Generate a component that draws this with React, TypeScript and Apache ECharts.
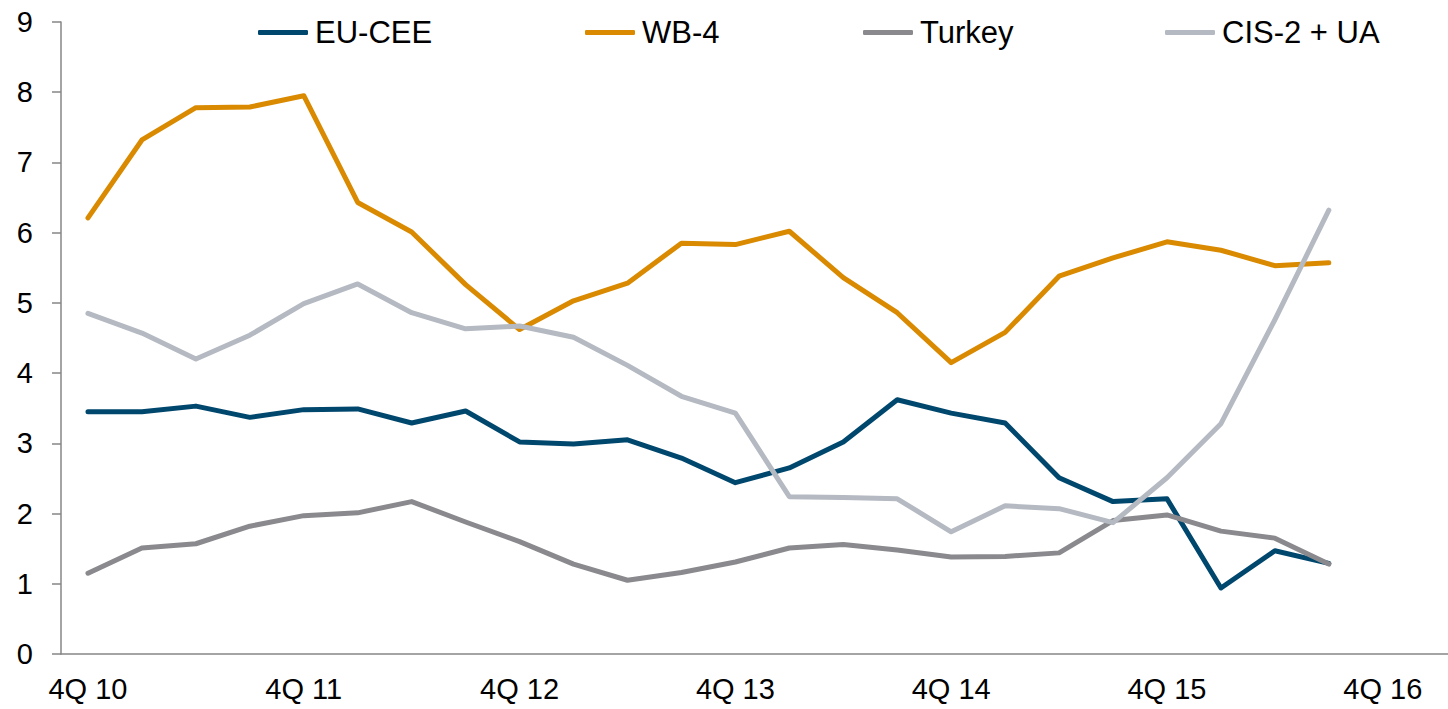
import React, { useEffect, useRef } from "react";
import * as echarts from "echarts";

const categories = [
  "4Q 10", "1Q 11", "2Q 11", "3Q 11",
  "4Q 11", "1Q 12", "2Q 12", "3Q 12",
  "4Q 12", "1Q 13", "2Q 13", "3Q 13",
  "4Q 13", "1Q 14", "2Q 14", "3Q 14",
  "4Q 14", "1Q 15", "2Q 15", "3Q 15",
  "4Q 15", "1Q 16", "2Q 16", "3Q 16",
  "4Q 16", "1Q 17",
];

const euCee = [3.45, 3.45, 3.53, 3.37, 3.48, 3.49, 3.29, 3.46, 3.02, 2.99, 3.05, 2.79, 2.44, 2.65, 3.02, 3.62, 3.43, 3.29, 2.51, 2.17, 2.21, 0.94, 1.47, 1.29];
const wb4 = [6.21, 7.32, 7.78, 7.79, 7.95, 6.43, 6.01, 5.26, 4.62, 5.03, 5.28, 5.85, 5.83, 6.02, 5.36, 4.86, 4.15, 4.58, 5.38, 5.64, 5.87, 5.75, 5.53, 5.57];
const turkey = [1.15, 1.51, 1.57, 1.82, 1.97, 2.01, 2.17, 1.88, 1.6, 1.28, 1.05, 1.16, 1.31, 1.51, 1.56, 1.48, 1.38, 1.39, 1.44, 1.9, 1.98, 1.75, 1.65, 1.28];
const cis2Ua = [4.85, 4.57, 4.2, 4.54, 4.99, 5.27, 4.86, 4.63, 4.67, 4.51, 4.11, 3.67, 3.43, 2.24, 2.23, 2.21, 1.74, 2.11, 2.07, 1.87, 2.51, 3.28, 4.76, 6.32];

const seriesNames = ["EU-CEE", "WB-4", "Turkey", "CIS-2 + UA"];
const seriesColors = ["#00476e", "#d98a00", "#8a898d", "#b4b9c2"];
const legendLefts = [253, 580, 858, 1160];

export default function App() {
  const ref = useRef<HTMLDivElement>(null);
  useEffect(() => {
    if (!ref.current) return;
    const chart = echarts.init(ref.current, undefined, { renderer: "svg" });
    const data = [euCee, wb4, turkey, cis2Ua];
    const font = "'Liberation Sans', Arial, Helvetica, sans-serif";
    chart.setOption({
      animation: false,
      backgroundColor: "#ffffff",
      legend: seriesNames.map((n, i) => ({
        data: [n],
        left: legendLefts[i],
        top: 12,
        icon: "roundRect",
        itemWidth: 50,
        itemHeight: 5,
        textStyle: { fontFamily: font, fontSize: 31, color: "#000", padding: [0, 0, 0, 2] },
      })),
      grid: { left: 61, top: 22, width: 26 * 53.95, height: 632 },
      xAxis: {
        type: "category",
        data: categories,
        boundaryGap: true,
        axisLine: { lineStyle: { color: "#868686", width: 1.5 } },
        axisTick: { show: false },
        axisLabel: {
          interval: 3,
          fontFamily: font,
          fontSize: 29,
          color: "#000",
          margin: 20,
        },
      },
      yAxis: {
        type: "value",
        min: 0,
        max: 9,
        interval: 1,
        splitLine: { show: false },
        axisLine: { show: true, lineStyle: { color: "#868686", width: 1.5 } },
        axisTick: { show: true, length: 9, lineStyle: { color: "#868686", width: 1.5 } },
        axisLabel: { fontFamily: font, fontSize: 29, color: "#000", margin: 28 },
      },
      series: seriesNames.map((n, i) => ({
        name: n,
        type: "line",
        data: data[i],
        symbol: "none",
        lineStyle: { color: seriesColors[i], width: 5, cap: "round", join: "round" },
        itemStyle: { color: seriesColors[i] },
      })),
    });
    return () => chart.dispose();
  }, []);
  return (
    <div style={{ position: "absolute", left: 0, top: 0, width: 1448, height: 709, overflow: "hidden" }}>
      <div ref={ref} style={{ width: 1480, height: 709 }} />
    </div>
  );
}
